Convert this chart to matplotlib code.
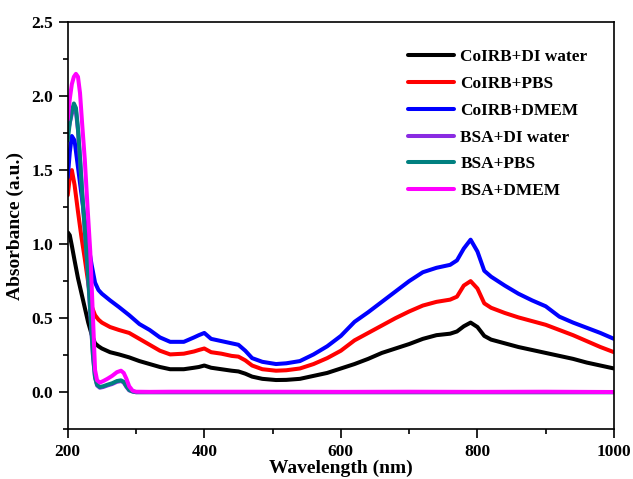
import matplotlib
matplotlib.use("Agg")
import matplotlib.pyplot as plt
from matplotlib.ticker import MultipleLocator, FormatStrFormatter

plt.rcParams['font.family'] = ['Liberation Serif', 'DejaVu Serif']
plt.rcParams['font.weight'] = 'bold'

# CoIRB samples
wl_coirb = [200, 203, 206, 210, 215, 220, 225, 230, 235, 240, 245, 250, 262, 275, 290, 305, 320, 335, 350,
            370, 385, 392, 400, 410, 425, 440, 450, 460, 470, 485, 505, 520, 540, 560, 580, 600, 620, 640,
            660, 680, 700, 720, 740, 760, 770, 780, 790, 800, 810, 820, 840, 860, 880, 900, 920, 940, 960,
            980, 1000]
coirb_di = [1.08, 1.06, 0.99, 0.89, 0.77, 0.67, 0.57, 0.47, 0.39, 0.33, 0.31, 0.295, 0.27, 0.255, 0.235, 0.21,
            0.19, 0.17, 0.155, 0.155, 0.165, 0.17, 0.18, 0.165, 0.155, 0.145, 0.14, 0.125, 0.105, 0.09, 0.082,
            0.083, 0.09, 0.11, 0.13, 0.16, 0.19, 0.225, 0.265, 0.295, 0.325, 0.36, 0.385, 0.395, 0.41, 0.445,
            0.47, 0.44, 0.38, 0.355, 0.33, 0.305, 0.285, 0.265, 0.245, 0.225, 0.20, 0.18, 0.16]
coirb_pbs = [1.33, 1.45, 1.50, 1.40, 1.22, 1.05, 0.90, 0.74, 0.58, 0.52, 0.49, 0.47, 0.44, 0.42, 0.40, 0.36,
             0.32, 0.28, 0.255, 0.26, 0.275, 0.285, 0.295, 0.27, 0.26, 0.245, 0.24, 0.215, 0.18, 0.155, 0.145,
             0.148, 0.16, 0.19, 0.23, 0.28, 0.35, 0.40, 0.45, 0.50, 0.545, 0.585, 0.61, 0.625, 0.645, 0.72,
             0.75, 0.70, 0.60, 0.57, 0.535, 0.505, 0.48, 0.455, 0.42, 0.385, 0.345, 0.305, 0.27]
coirb_dmem = [1.45, 1.62, 1.73, 1.70, 1.52, 1.34, 1.16, 1.00, 0.86, 0.74, 0.69, 0.665, 0.62, 0.575, 0.52, 0.46,
              0.42, 0.37, 0.34, 0.34, 0.37, 0.385, 0.40, 0.36, 0.345, 0.33, 0.32, 0.28, 0.23, 0.205, 0.19,
              0.195, 0.21, 0.255, 0.31, 0.38, 0.475, 0.54, 0.61, 0.68, 0.75, 0.81, 0.84, 0.86, 0.89, 0.97,
              1.03, 0.95, 0.82, 0.78, 0.72, 0.665, 0.62, 0.58, 0.51, 0.47, 0.435, 0.40, 0.36]

# BSA samples
wl_bsa = [200, 203, 206, 209, 212, 215, 218, 221, 225, 229, 233, 237, 240, 243, 247, 252, 258, 265, 272, 278,
          282, 286, 290, 295, 300, 320, 350, 400, 500, 600, 700, 800, 900, 1000]
bsa_di = [1.75, 1.82, 1.88, 1.92, 1.90, 1.77, 1.57, 1.35, 1.09, 0.84, 0.54, 0.24, 0.10, 0.045, 0.03, 0.035,
          0.045, 0.055, 0.07, 0.075, 0.065, 0.035, 0.012, 0.004, 0.0, 0.0, 0.0, 0.0, 0.0, 0.0, 0.0, 0.0, 0.0, 0.0]
bsa_pbs = [1.70, 1.82, 1.90, 1.95, 1.92, 1.78, 1.58, 1.36, 1.10, 0.85, 0.55, 0.25, 0.10, 0.05, 0.035, 0.04,
           0.05, 0.06, 0.075, 0.08, 0.07, 0.04, 0.015, 0.005, 0.0, 0.0, 0.0, 0.0, 0.0, 0.0, 0.0, 0.0, 0.0, 0.0]
bsa_dmem = [1.84, 1.98, 2.08, 2.13, 2.15, 2.13, 2.02, 1.82, 1.57, 1.25, 0.95, 0.50, 0.15, 0.08, 0.065, 0.075,
            0.09, 0.11, 0.135, 0.145, 0.13, 0.09, 0.04, 0.01, 0.003, 0.002, 0.003, 0.003, 0.003, 0.002, 0.003,
            0.002, 0.003, 0.001]

labels = ["CoIRB+DI water", "CoIRB+PBS", "CoIRB+DMEM", "BSA+DI water", "BSA+PBS", "BSA+DMEM"]
colors = ["#000000", "#FF0000", "#0000FF", "#8A2BE2", "#008080", "#FF00FF"]

fig = plt.figure(figsize=(6.33, 4.79), dpi=100)
ax = fig.add_axes([0.107, 0.104, 0.863, 0.850])

series = [(wl_coirb, coirb_di), (wl_coirb, coirb_pbs), (wl_coirb, coirb_dmem),
          (wl_bsa, bsa_di), (wl_bsa, bsa_pbs), (wl_bsa, bsa_dmem)]
for (x, y), lab, c in zip(series, labels, colors):
    ax.plot(x, y, color=c, lw=2.9, label=lab, solid_joinstyle='round', solid_capstyle='round')

ax.set_xlim(200, 1000)
ax.set_ylim(-0.25, 2.5)
ax.xaxis.set_major_locator(MultipleLocator(200))
ax.xaxis.set_minor_locator(MultipleLocator(100))
ax.yaxis.set_major_locator(MultipleLocator(0.5))
ax.yaxis.set_minor_locator(MultipleLocator(0.25))
ax.yaxis.set_major_formatter(FormatStrFormatter('%.1f'))
ax.tick_params(which='both', direction='out', top=False, right=False, width=1.2, labelsize=12.5)
ax.tick_params(which='major', length=6.5, pad=4)
ax.tick_params(which='minor', length=3.6)
for lbl in ax.get_xticklabels() + ax.get_yticklabels():
    lbl.set_fontweight('bold')
for s in ax.spines.values():
    s.set_linewidth(1.2)

ax.set_xlabel("Wavelength (nm)", fontsize=14, fontweight='bold', labelpad=0)
ax.set_ylabel("Absorbance (a.u.)", fontsize=14, fontweight='bold', labelpad=5)

leg = ax.legend(loc='upper left', bbox_to_anchor=(0.61, 0.95), frameon=False,
                prop={'size': 12.4, 'weight': 'bold'}, handlelength=2.7, handletextpad=0.35,
                labelspacing=0.62, borderaxespad=0)

fig.savefig("out.png", dpi=100)
